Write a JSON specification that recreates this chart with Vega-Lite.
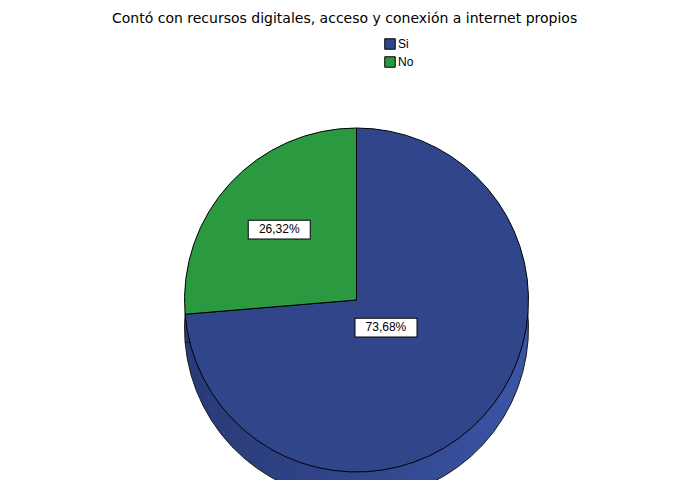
{
  "$schema": "https://vega.github.io/schema/vega-lite/v6.json",
  "width": 673,
  "height": 360,
  "autosize": {"type": "none"},
  "padding": {"left": 20, "top": 120, "right": 0, "bottom": 0},
  "background": "white",
  "title": {
    "text": "Contó con recursos digitales, acceso y conexión a internet propios",
    "anchor": "start",
    "dx": 92,
    "offset": 12,
    "font": "DejaVu Sans",
    "fontSize": 14,
    "fontWeight": "normal",
    "color": "#000000"
  },
  "data": {
    "values": [
      {"respuesta": "Si", "porcentaje": 73.68, "etiqueta": "73,68%"},
      {"respuesta": "No", "porcentaje": 26.32, "etiqueta": "26,32%"}
    ]
  },
  "encoding": {
    "theta": {"field": "porcentaje", "type": "quantitative", "stack": true},
    "order": {"field": "porcentaje", "type": "quantitative", "sort": "descending"}
  },
  "layer": [
    {
      "mark": {
        "type": "arc",
        "outerRadius": 172,
        "yOffset": 28,
        "stroke": "#1A1A1A",
        "strokeWidth": 1,
        "fill": {
          "gradient": "linear",
          "x1": 0, "y1": 0, "x2": 1, "y2": 0,
          "stops": [
            {"offset": 0, "color": "#283A78"},
            {"offset": 0.6, "color": "#33488F"},
            {"offset": 1, "color": "#3B55A6"}
          ]
        }
      }
    },
    {
      "mark": {"type": "arc", "outerRadius": 172, "stroke": "#000000", "strokeWidth": 1},
      "encoding": {
        "color": {
          "field": "respuesta",
          "type": "nominal",
          "scale": {"domain": ["Si", "No"], "range": ["#31468A", "#2A993F"]},
          "legend": {
            "title": null,
            "orient": "none",
            "legendX": 364,
            "legendY": -82,
            "symbolType": "square",
            "symbolSize": 110,
            "symbolStrokeColor": "#000000",
            "symbolStrokeWidth": 1,
            "symbolOpacity": 1,
            "labelFont": "Liberation Sans",
            "labelFontSize": 12,
            "labelColor": "#000000",
            "labelOffset": 2,
            "rowPadding": 2
          }
        }
      }
    },
    {
      "mark": {"type": "text", "radius": {"expr": "datum.respuesta === 'Si' ? 40 : 105"}, "text": "▬", "font": "Liberation Sans", "fontSize": 62, "fill": "#FFFFFF", "stroke": "#000000", "strokeWidth": 1, "baseline": "middle", "dy": -9}
    },
    {
      "mark": {"type": "text", "radius": {"expr": "datum.respuesta === 'Si' ? 40 : 105"}, "font": "Liberation Sans", "fontSize": 12, "color": "#000000", "baseline": "middle"},
      "encoding": {"text": {"field": "etiqueta"}}
    }
  ]
}
